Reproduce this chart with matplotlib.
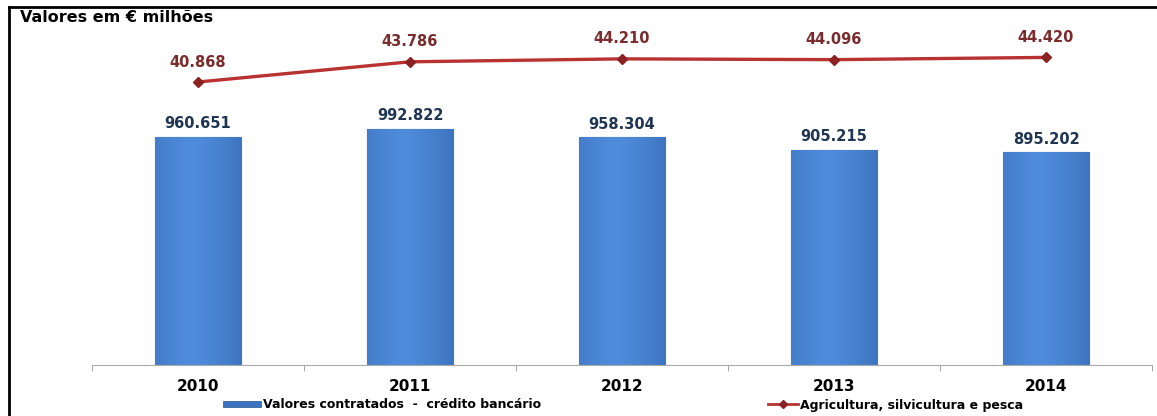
import numpy as np
import matplotlib.pyplot as plt
from matplotlib.patches import Rectangle
from matplotlib.lines import Line2D

plt.rcParams['font.family'] = ['DejaVu Sans']
plt.rcParams['font.weight'] = 'bold'

anos = ['2010', '2011', '2012', '2013', '2014']
credito = [960.651, 992.822, 958.304, 905.215, 895.202]
agricultura = [40.868, 43.786, 44.210, 44.096, 44.420]
rotulos_credito = ['960.651', '992.822', '958.304', '905.215', '895.202']
rotulos_agri = ['40.868', '43.786', '44.210', '44.096', '44.420']

W, H = 1157, 416
fig = plt.figure(figsize=(W / 100, H / 100), dpi=100)
ax = fig.add_axes([92 / W, (H - 365) / H, (1152 - 92) / W, 340 / H])
ax2 = ax.twinx()

x = np.arange(len(anos))
largura = 0.41

# bars with a horizontal shading (light near the middle, darker at the sides)
grad = np.linspace(0, 1, 64)
shade = 1 - 0.9 * np.abs(grad - 0.42) ** 1.3
c_light = np.array([0.31, 0.55, 0.86])
c_dark = np.array([0.16, 0.34, 0.62])
img = c_dark + (c_light - c_dark) * shade[:, None]
img = img[None, :, :]

bars = ax.bar(x, credito, width=largura, color='#3a72c0', edgecolor='#2a5290',
              linewidth=0.8, zorder=2)
for b in bars:
    x0, y0 = b.get_x(), b.get_y()
    im = ax.imshow(img, extent=[x0, x0 + b.get_width(), y0, y0 + b.get_height()],
                   aspect='auto', zorder=2.5, interpolation='bilinear')
    im.set_clip_path(b)

for xi, v, s in zip(x, credito, rotulos_credito):
    ax.annotate(s, (xi, v), xytext=(0, 4), textcoords='offset points',
                ha='center', va='bottom', fontsize=10.5, fontweight='bold',
                color='#1f3552')

ax.set_xlim(-0.5, len(anos) - 0.5)
ax.set_ylim(0, 1430)
ax.set_yticks([])
ax.set_xticks(x)
ax.set_xticklabels(anos, fontsize=11, fontweight='bold')
ax.set_xticks(np.arange(len(anos) + 1) - 0.5, minor=True)
ax.tick_params(axis='x', which='major', length=0, pad=10)
ax.tick_params(axis='x', which='minor', length=4, color='#999999', direction='out')
for sp in ['top', 'right', 'left']:
    ax.spines[sp].set_visible(False)
ax.spines['bottom'].set_color('#aaaaaa')

# second series on its own scale
ax2.plot(x, agricultura, color='#b83232', lw=2.4, marker='D', markersize=5,
         markerfacecolor='#8b2222', markeredgecolor='#8b2222', zorder=3)
for xi, v, s in zip(x, agricultura, rotulos_agri):
    ax2.annotate(s, (xi, v), xytext=(0, 9), textcoords='offset points',
                 ha='center', va='bottom', fontsize=10.5, fontweight='bold',
                 color='#7a2c2c')
ax2.set_ylim(0, 49.1)
ax2.set_yticks([])
for sp in ['top', 'right', 'left', 'bottom']:
    ax2.spines[sp].set_visible(False)

fig.text(20 / W, 1 - 18 / H, 'Valores em € milhões', fontsize=11.5,
         fontweight='bold', va='center', ha='left')

# frame on top and left
fig.add_artist(Line2D([9 / W, 9 / W], [0, 1 - 7 / H], transform=fig.transFigure,
                      color='black', lw=2))
fig.add_artist(Line2D([9 / W, 1], [1 - 7 / H, 1 - 7 / H], transform=fig.transFigure,
                      color='black', lw=2))

h1 = Rectangle((0, 0), 1, 1, facecolor='#3a72c0', edgecolor='#2a5290', lw=0.5)
h2 = Line2D([], [], color='#b83232', lw=2, marker='D', markersize=4,
            markerfacecolor='#8b2222', markeredgecolor='#8b2222')
leg1 = fig.legend([h1], ['Valores contratados  -  crédito bancário'],
                  loc='center left', bbox_to_anchor=(223 / W, 1 - 405 / H),
                  frameon=False, fontsize=9, handlelength=3.0,
                  handleheight=0.35, handletextpad=0.2,
                  borderaxespad=0, borderpad=0)
leg2 = fig.legend([h2], ['Agricultura, silvicultura e pesca'],
                  loc='center left', bbox_to_anchor=(768 / W, 1 - 405 / H),
                  frameon=False, fontsize=9, handlelength=2.4,
                  handletextpad=0.15, borderaxespad=0, borderpad=0)

fig.savefig('out.png', dpi=100)
